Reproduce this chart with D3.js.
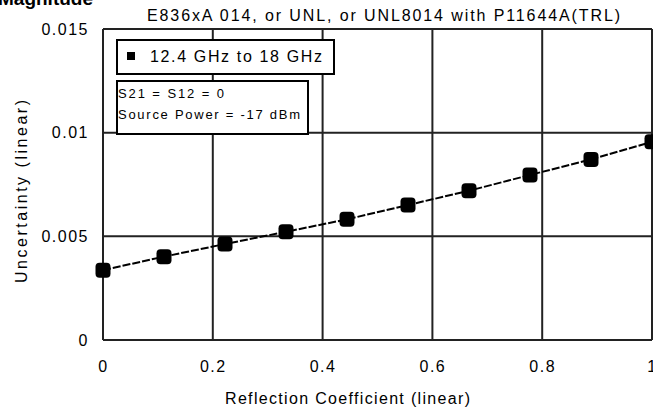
<!DOCTYPE html>
<html>
<head>
<meta charset="utf-8">
<script src="https://cdn.jsdelivr.net/npm/d3@7"></script>
<style>
  body { margin: 0; background: #fff; }
  svg { font-family: "Liberation Sans", Arial, sans-serif; }
  .grid line { stroke: #222; stroke-width: 2; }
  .tick text { font-size: 16px; letter-spacing: 1.5px; font-family: "Liberation Sans", Arial, sans-serif; }
</style>
</head>
<body>
<svg width="653" height="411"></svg>
<script>
var reflection = [0, 1/9, 2/9, 3/9, 4/9, 5/9, 6/9, 7/9, 8/9, 1];
var uncertainty = [0.00337, 0.00402, 0.00463, 0.00522, 0.00582, 0.00651, 0.0072, 0.00796, 0.00871, 0.00956];
var xTicks = [0, 0.2, 0.4, 0.6, 0.8, 1];
var yTicks = [0, 0.005, 0.01, 0.015];
var yTickLabels = ['0', '0.005', '0.01', '0.015'];
var titleText = 'E836xA 014, or UNL, or UNL8014 with P11644A(TRL)';
var legendText = '12.4 GHz to 18 GHz';
var noteLines = ['S21 = S12 = 0', 'Source Power = -17 dBm'];
var noteWidths = [106, 182];

var svg = d3.select('svg');

var x = d3.scaleLinear().domain([0, 1]).range([103, 652]);
var y = d3.scaleLinear().domain([0, 0.015]).range([340, 29]);

// partly cut heading
svg.append('text')
  .attr('x', -2).attr('y', 5)
  .style('font-size', '19px').style('font-weight', 'bold')
  .text('Magnitude');

svg.append('text')
  .attr('x', 147).attr('y', 21)
  .attr('textLength', 473).attr('lengthAdjust', 'spacing')
  .style('font-size', '16px')
  .text(titleText);

// grid
var grid = svg.append('g').attr('class', 'grid');
grid.selectAll('line.v')
  .data(xTicks)
  .enter()
  .append('line')
    .attr('x1', d => x(d)).attr('x2', d => x(d))
    .attr('y1', y(0)).attr('y2', y(0.015));
grid.selectAll('line.h')
  .data(yTicks)
  .enter()
  .append('line')
    .attr('x1', x(0)).attr('x2', x(1))
    .attr('y1', d => y(d)).attr('y2', d => y(d));

// axes (labels only)
var xAxis = d3.axisBottom(x).tickValues(xTicks).tickSize(0).tickPadding(21)
  .tickFormat(d => d === 0 || d === 1 ? String(d) : d3.format('.1f')(d));
svg.append('g')
  .attr('transform', 'translate(0,' + y(0) + ')')
  .call(xAxis)
  .call(g => g.select('.domain').remove())
  .selectAll('text').attr('fill', '#000');

var yAxis = d3.axisLeft(y).tickValues(yTicks).tickSize(0).tickPadding(14)
  .tickFormat((d, i) => yTickLabels[i]);
svg.append('g')
  .attr('transform', 'translate(' + x(0) + ',0)')
  .call(yAxis)
  .call(g => g.select('.domain').remove())
  .selectAll('text').attr('fill', '#000');

svg.append('text')
  .attr('x', 225).attr('y', 404)
  .attr('textLength', 245).attr('lengthAdjust', 'spacing')
  .style('font-size', '16px')
  .text('Reflection Coefficient (linear)');

svg.append('text')
  .attr('transform', 'translate(27,283) rotate(-90)')
  .attr('textLength', 183).attr('lengthAdjust', 'spacing')
  .style('font-size', '16px')
  .text('Uncertainty (linear)');

// series
var pts = reflection.map((r, i) => [r, uncertainty[i]]);
var line = d3.line().x(d => x(d[0])).y(d => y(d[1]));
svg.append('path')
  .datum(pts)
  .attr('d', line)
  .attr('fill', 'none')
  .attr('stroke', '#000')
  .attr('stroke-width', 2)
  .attr('stroke-dasharray', '8,2');

svg.selectAll('rect.mark')
  .data(pts)
  .enter()
  .append('rect')
    .attr('class', 'mark')
    .attr('x', d => x(d[0]) - 7.5)
    .attr('y', d => y(d[1]) - 7.5)
    .attr('width', 15).attr('height', 15)
    .attr('rx', 4)
    .attr('fill', '#000');

// legend box
var lg = svg.append('g');
lg.append('rect')
  .attr('x', 117).attr('y', 40).attr('width', 217).attr('height', 34)
  .attr('fill', '#fff').attr('stroke', '#000').attr('stroke-width', 2);
lg.append('rect')
  .attr('x', 127).attr('y', 52).attr('width', 8).attr('height', 8)
  .attr('fill', '#000');
lg.append('text')
  .attr('x', 150).attr('y', 62)
  .attr('textLength', 172).attr('lengthAdjust', 'spacing')
  .style('font-size', '16px')
  .text(legendText);

// note box
var nb = svg.append('g');
nb.append('rect')
  .attr('x', 117).attr('y', 81).attr('width', 191).attr('height', 53)
  .attr('fill', '#fff').attr('stroke', '#000').attr('stroke-width', 2);
nb.selectAll('text')
  .data(noteLines)
  .enter()
  .append('text')
    .attr('x', 118)
    .attr('y', (d, i) => 98 + i * 21)
    .attr('textLength', (d, i) => noteWidths[i]).attr('lengthAdjust', 'spacing')
    .style('font-size', '13px')
    .text(d => d);
</script>
</body>
</html>
